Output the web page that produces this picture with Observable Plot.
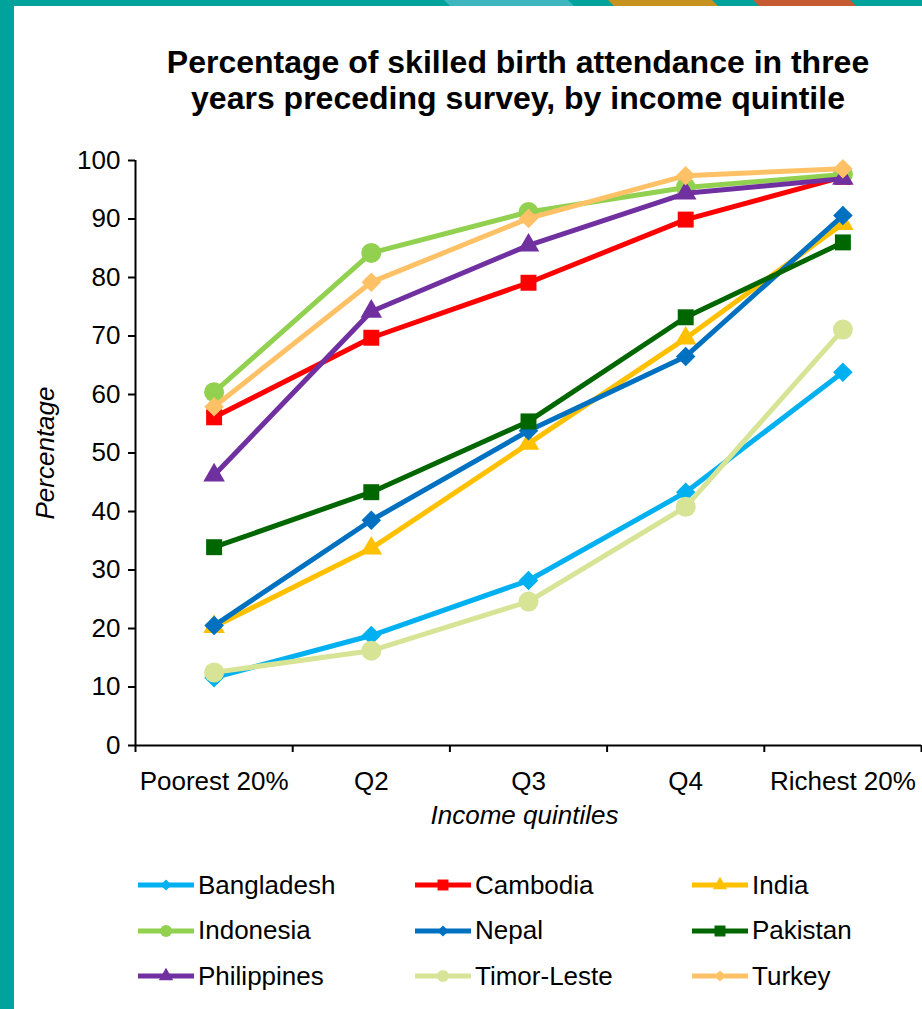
<!DOCTYPE html>
<html>
<head>
<meta charset="utf-8">
<script src="https://cdn.jsdelivr.net/npm/d3@7"></script>
<script src="https://cdn.jsdelivr.net/npm/@observablehq/plot@0.6"></script>
<style>
  html, body { margin: 0; padding: 0; background: #fff; }
  body { width: 922px; height: 1009px; position: relative; overflow: hidden;
         font-family: "Liberation Sans", Arial, sans-serif; color: #000; }
  #frame { position: absolute; left: 0; top: 0; }
  #title { position: absolute; left: 118px; top: 44px; width: 800px; text-align: center;
           font-weight: bold; font-size: 32px; line-height: 36px; }
  #chart { position: absolute; left: 0; top: 140px; }
  #legend { position: absolute; left: 0; top: 0; }
  .item { position: absolute; display: flex; align-items: center; height: 30px; font-size: 26px; white-space: nowrap; }
  .item svg { margin-right: 4px; }
</style>
</head>
<body>
<svg id="frame" width="922" height="1009"></svg>
<div id="title">Percentage of skilled birth attendance in three<br>years preceding survey, by income quintile</div>
<div id="chart"></div>
<div id="legend"></div>
<script>
// Income quintiles along the x axis
const quintiles = ["Poorest 20%", "Q2", "Q3", "Q4", "Richest 20%"];

// Countries, their colours and marker shapes
const countries = ["Bangladesh", "Cambodia", "India", "Indonesia", "Nepal", "Pakistan", "Philippines", "Timor-Leste", "Turkey"];
const colors = ["#00B0F0", "#FF0000", "#FFC000", "#92D050", "#0070C0", "#006600", "#7030A0", "#D7E495", "#FFC166"];
const symbols = ["diamond2", "square", "triangle", "circle", "diamond2", "square", "triangle", "circle", "diamond2"];

// Skilled birth attendance (%) per quintile, poorest to richest
const bangladesh = [11.6, 18.8, 28.2, 43.3, 63.8];
const cambodia = [56.1, 69.7, 79.1, 89.9, 97.2];
const india = [20.3, 33.7, 51.6, 69.6, 89.2];
const indonesia = [60.4, 84.2, 91.2, 95.4, 97.6];
const nepal = [20.5, 38.5, 53.8, 66.5, 90.6];
const pakistan = [33.9, 43.3, 55.4, 73.2, 86.0];
const philippines = [46.2, 74.2, 85.5, 94.4, 96.9];
const timorLeste = [12.5, 16.2, 24.6, 40.8, 71.1];
const turkey = [57.9, 79.2, 90.1, 97.4, 98.6];

const series = [bangladesh, cambodia, india, indonesia, nepal, pakistan, philippines, timorLeste, turkey];

// Ticks at the quintile boundaries (0..5), labels at their centres
const boundaries = d3.range(0, quintiles.length + 1);
const centres = quintiles.map((q, j) => j + 0.5);

const markerRadius = {circle: 10, square: 9, diamond2: 8.8, triangle: 8};

const rows = countries.map((country, i) =>
  series[i].map((value, j) => ({country, pos: j + 0.5, value}))
);

// Each country draws its line and then its markers, so later series sit on top
const seriesMarks = rows.flatMap((data, i) => [
  Plot.line(data, {x: "pos", y: "value", stroke: colors[i], strokeWidth: 5}),
  Plot.dot(data, {x: "pos", y: "value", fill: colors[i], stroke: "none", symbol: symbols[i], r: markerRadius[symbols[i]]})
]);

const chart = Plot.plot({
  width: 922,
  height: 700,
  marginLeft: 135,
  marginRight: 1,
  marginTop: 20,
  marginBottom: 95,
  x: {type: "linear", domain: [0, quintiles.length]},
  y: {domain: [0, 100]},
  style: {fontFamily: "'Liberation Sans', Arial, sans-serif", fontSize: "26px", color: "#000", background: "transparent", overflow: "visible"},
  marks: [
    Plot.axisY({ticks: d3.range(0, 101, 10), tickSize: 7, tickPadding: 8, label: null, strokeWidth: 2, fontSize: 26}),
    Plot.axisX({ticks: boundaries, tickSize: 7, tickFormat: () => "", label: null, strokeWidth: 2}),
    Plot.axisX({ticks: centres, tickSize: 0, tickPadding: 26, tickFormat: d => quintiles[Math.floor(d)], label: null, fontSize: 26}),
    Plot.ruleX([0], {stroke: "#000", strokeWidth: 2}),
    Plot.ruleY([0], {stroke: "#000", strokeWidth: 2}),
    ...seriesMarks,
    Plot.text(["Percentage"], {frameAnchor: "left", dx: -90, rotate: -90, textAnchor: "middle", lineAnchor: "middle", fontStyle: "italic", fontSize: 26, fill: "#000"}),
    Plot.text(["Income quintiles"], {frameAnchor: "bottom", dy: 70, dx: -4, textAnchor: "middle", lineAnchor: "middle", fontStyle: "italic", fontSize: 26, fill: "#000"})
  ]
});
document.getElementById("chart").appendChild(chart);

// Legend: three columns, three rows
const symbolTypes = {
  circle: d3.symbolCircle,
  square: d3.symbolSquare,
  triangle: d3.symbolTriangle,
  diamond2: d3.symbolDiamond2 || d3.symbolDiamond
};
const legendSize = {circle: 110, square: 120, triangle: 90, diamond2: 80};
const legend = d3.select("#legend");
countries.forEach((country, i) => {
  const col = i % 3, row = Math.floor(i / 3);
  const item = legend.append("div").attr("class", "item")
    .style("left", (138 + col * 277) + "px")
    .style("top", (870 + row * 45.5) + "px");
  const sw = item.append("svg").attr("width", 56).attr("height", 20);
  sw.append("line").attr("x1", 0).attr("x2", 56).attr("y1", 10).attr("y2", 10)
    .attr("stroke", colors[i]).attr("stroke-width", 5);
  sw.append("path").attr("transform", "translate(28,10)")
    .attr("d", d3.symbol(symbolTypes[symbols[i]], legendSize[symbols[i]])())
    .attr("fill", colors[i]);
  item.append("span").text(country);
});

// Teal slide frame with coloured stripes along the top edge
const frame = d3.select("#frame");
frame.append("rect").attr("x", 0).attr("y", 0).attr("width", 922).attr("height", 6).attr("fill", "#00A39B");
frame.append("rect").attr("x", 0).attr("y", 0).attr("width", 14).attr("height", 1009).attr("fill", "#00A39B");
const stripes = [
  {x0: 444, x1: 568, fill: "#3DB6BD"},
  {x0: 608, x1: 712, fill: "#C8921F"},
  {x0: 753, x1: 850, fill: "#C65B31"}
];
stripes.forEach(s => {
  frame.append("polygon")
    .attr("points", `${s.x0},0 ${s.x1},0 ${s.x1 + 6},6 ${s.x0 + 6},6`)
    .attr("fill", s.fill);
});
</script>
</body>
</html>
